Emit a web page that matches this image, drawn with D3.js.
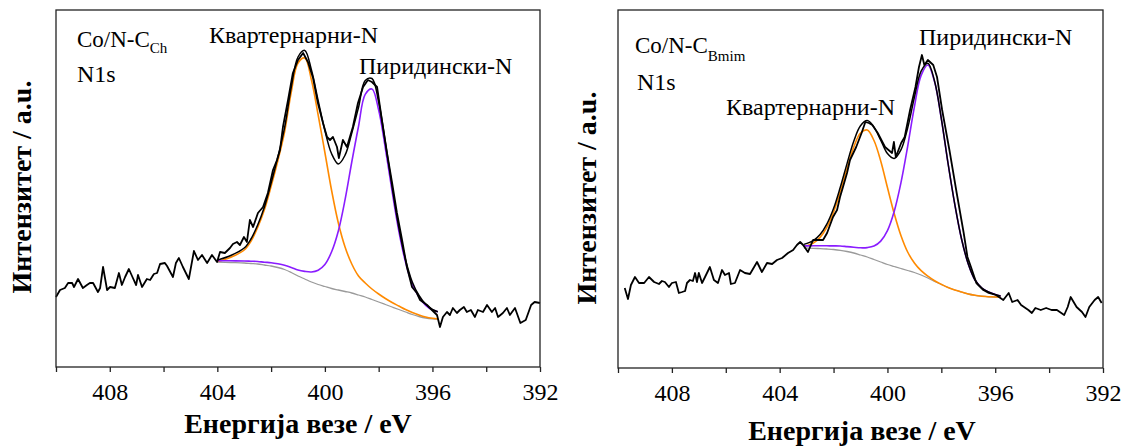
<!DOCTYPE html>
<html>
<head>
<meta charset="utf-8">
<script src="https://cdn.jsdelivr.net/npm/d3@7"></script>
<style>
  body { margin: 0; background: #fff; }
  svg { display: block; }
  svg text { font-family: "Liberation Serif", "Times New Roman", Tinos, "DejaVu Serif", serif; fill: #000; }
</style>
</head>
<body>
<svg id="chart" width="1122" height="447"></svg>
<script>
// ---- data (binding energy in eV, intensity in a.u.) ----
var energyTicks = [410, 408, 406, 404, 402, 400, 398, 396, 394, 392];
var energyLabels = [408, 404, 400, 396, 392];

// Co/N-C(Ch) measured spectrum
var chRawE = [410.0, 409.85, 409.67, 409.55, 409.4, 409.33, 409.18, 409.0, 408.85, 408.74, 408.62, 408.44, 408.36, 408.25, 408.1, 407.99, 407.81, 407.66, 407.55, 407.43, 407.29, 407.14, 407.02, 406.95, 406.8, 406.62, 406.5, 406.36, 406.24, 406.13, 405.95, 405.87, 405.65, 405.54, 405.43, 405.28, 405.06, 404.87, 404.72, 404.57, 404.38, 404.2, 404.01, 403.9, 403.72, 403.53, 403.42, 403.27, 403.16, 403.01, 402.9, 402.79, 402.67, 402.49, 402.3, 402.12, 401.93, 401.78, 401.67, 401.56, 401.37, 401.19, 401.0, 400.81, 400.63, 400.44, 400.26, 400.07, 399.92, 399.81, 399.7, 399.55, 399.48, 399.33, 399.18, 399.07, 398.96, 398.77, 398.58, 398.4, 398.25, 398.06, 397.88, 397.69, 397.5, 397.32, 397.13, 396.95, 396.76, 396.58, 396.46, 396.2, 396.02, 395.83, 395.72, 395.61, 395.46, 395.35, 395.24, 395.09, 394.98, 394.83, 394.72, 394.57, 394.42, 394.31, 394.12, 393.97, 393.79, 393.67, 393.56, 393.38, 393.23, 393.12, 392.93, 392.73, 392.53, 392.33, 392.2, 392.0];
var chRawI = [70, 77, 79, 84, 84, 80, 88, 79, 82, 84, 84, 75, 79, 100, 77, 80, 79, 94, 82, 90, 98, 89, 82, 92, 80, 88, 87, 93, 94, 103, 104, 101, 90, 104, 109, 100, 88, 116, 107, 112, 104, 112, 105, 115, 114, 119, 123, 125, 122, 130, 125, 147, 140, 154, 160, 174, 197, 207, 217, 240, 267, 294, 307, 314, 305, 289, 264, 244, 230, 227, 230, 220, 209, 227, 220, 230, 240, 264, 280, 287, 285, 280, 247, 214, 184, 154, 127, 100, 80, 74, 67, 62, 57, 52, 40, 50, 55, 52, 59, 54, 57, 60, 55, 57, 50, 57, 55, 62, 55, 59, 50, 54, 59, 52, 59, 44, 47, 62, 65, 64];

// Co/N-C(Ch) fit
var chFitE = [404, 403.5, 403, 402.75, 402.5, 402.25, 402, 401.75, 401.5, 401.25, 401, 400.75, 400.5, 400.25, 400, 399.75, 399.5, 399.25, 399, 398.75, 398.5, 398.25, 398, 397.75, 397.5, 397.25, 397, 396.75, 396.5, 396.25, 396, 395.8];
var chBackground = [105, 104.5, 104, 103.5, 103, 102, 101, 99.5, 97.5, 94.5, 91, 88, 85, 82.5, 80.5, 78.5, 77, 75.5, 74, 72, 70, 67.5, 65, 62.5, 60, 57.5, 55, 52.5, 50.5, 49, 48.2, 48];
var chQuaternary = [105.5, 109.8, 117, 125.7, 139.5, 157.2, 180.7, 206.3, 235, 275, 304, 309, 287, 252, 214.5, 176.5, 144, 120, 103, 91, 84, 78, 73, 68.5, 64.5, 61, 57.5, 54.5, 52, 50, 48.7, 48];
var chPyridinic = [106.4, 106.2, 106, 105.8, 105.5, 104.8, 104.3, 103.2, 101.7, 99.5, 97, 95.6, 95, 96.8, 102.5, 115.2, 136, 167.3, 205, 240.5, 272.6, 278, 257, 218.5, 175.6, 136, 104.8, 83, 70, 61.7, 57, 55.2];
var chEnvelope = [106.9, 111.5, 119, 128, 142, 160, 184, 210, 239.2, 280, 310, 316.6, 297, 266.3, 236.5, 213.2, 203, 211.8, 234, 259.5, 286.6, 288.5, 265, 224.5, 180.1, 139.5, 107.3, 85, 71.5, 62.7, 57.5, 55.2];

// Co/N-C(Bmim) measured spectrum
var bmRawE = [409.75, 409.63, 409.52, 409.37, 409.22, 409.03, 408.85, 408.66, 408.48, 408.37, 408.26, 408.11, 408.0, 407.85, 407.74, 407.62, 407.51, 407.44, 407.33, 407.22, 407.14, 407.07, 407.0, 406.88, 406.77, 406.59, 406.44, 406.29, 406.14, 406.03, 405.88, 405.81, 405.66, 405.47, 405.29, 405.1, 404.84, 404.66, 404.47, 404.28, 404.1, 403.91, 403.69, 403.5, 403.36, 403.24, 403.13, 402.95, 402.76, 402.58, 402.39, 402.24, 402.13, 402.02, 401.87, 401.76, 401.65, 401.5, 401.39, 401.16, 400.96, 400.82, 400.69, 400.56, 400.36, 400.09, 399.83, 399.76, 399.69, 399.49, 399.36, 399.16, 398.96, 398.83, 398.72, 398.63, 398.5, 398.3, 398.16, 397.97, 397.7, 397.43, 397.17, 397.03, 396.9, 396.7, 396.44, 396.24, 395.97, 395.7, 395.5, 395.37, 395.17, 395.04, 394.77, 394.64, 394.51, 394.31, 394.11, 393.91, 393.71, 393.44, 393.31, 393.2, 392.98, 392.78, 392.65, 392.51, 392.31, 392.18, 392.05];
var bmRawI = [80, 69, 83, 91, 85, 85, 91, 86, 84, 87, 86, 81, 85, 86, 75, 76, 77, 85, 88, 87, 95, 86, 95, 85, 91, 101, 88, 85, 98, 93, 95, 84, 85, 98, 95, 94, 106, 96, 105, 104, 108, 110, 115, 118, 123, 126, 123, 116, 128, 128, 128, 135, 143, 151, 158, 171, 181, 195, 208, 221, 235, 246, 245, 243, 235, 221, 215, 226, 211, 225, 231, 258, 281, 301, 313, 303, 308, 303, 291, 258, 218, 175, 135, 111, 101, 85, 78, 75, 73, 68, 75, 66, 68, 63, 58, 55, 60, 58, 60, 58, 58, 53, 61, 71, 61, 56, 51, 61, 68, 71, 65];

// Co/N-C(Bmim) fit
var bmFitE = [403.1, 402.75, 402.5, 402.25, 402, 401.75, 401.5, 401.25, 401, 400.75, 400.5, 400.25, 400, 399.75, 399.5, 399.25, 399, 398.75, 398.5, 398.25, 398, 397.75, 397.5, 397.25, 397, 396.75, 396.5, 396.25, 396, 395.8];
var bmBackground = [120, 119.7, 119.4, 119, 118.5, 117.7, 116.5, 115, 113, 111, 108.5, 106, 103.5, 101.5, 99.5, 97.5, 95.5, 93, 90, 86.5, 83.5, 80.5, 78, 76, 74, 72.7, 71.8, 71.2, 71, 71];
var bmQuaternary = [121.5, 124.9, 130.6, 140.6, 155.8, 176.4, 199.5, 221, 235, 238, 227.5, 207, 180.5, 154.5, 132.5, 116, 105, 97.3, 91.8, 87.2, 83.7, 80.5, 78, 76, 74, 72.7, 71.8, 71.2, 71, 71];
var bmPyridinic = [122.1, 122.2, 122.2, 122.2, 122.1, 122, 121.4, 120.8, 120.2, 120.4, 121.9, 126.9, 137.4, 156.5, 185.1, 221.5, 261.2, 292.6, 303, 286.1, 249.2, 204.5, 163.6, 129, 104, 88, 80, 76, 73.5, 72];
var bmEnvelope = [123.6, 127.4, 133.4, 143.8, 159.4, 180.7, 204.4, 226.8, 242.2, 247.4, 240.9, 227.9, 214.4, 209.5, 218.1, 240, 270.7, 296.9, 304.8, 286.8, 249.4, 204.5, 163.6, 129, 104, 88, 80, 76, 73.5, 72];

// ---- drawing ----
var svg = d3.select("#chart");

function pairs(xs, ys) {
	return xs.map(function(e, i) { return [e, ys[i]]; });
}

function drawPanel(p) {
	var x = d3.scaleLinear().domain([410, 392]).range([p.left, p.right]);
	var y = d3.scaleLinear().domain([0, p.bottom - p.top]).range([p.bottom, p.top]);
	var g = svg.append("g");

	var smooth = d3.line()
		.x(function(d) { return x(d[0]); })
		.y(function(d) { return y(d[1]); })
		.curve(d3.curveCatmullRom.alpha(0.5));
	var rough = d3.line()
		.x(function(d) { return x(d[0]); })
		.y(function(d) { return y(d[1]); });

	// fit components
	g.append("path").datum(pairs(p.fitE, p.bg))
		.attr("d", smooth).attr("fill", "none")
		.attr("stroke", "#9a9a9a").attr("stroke-width", 1.3);
	g.append("path").datum(pairs(p.fitE, p.quat))
		.attr("d", smooth).attr("fill", "none")
		.attr("stroke", "#ff8a00").attr("stroke-width", 1.6);
	g.append("path").datum(pairs(p.fitE, p.pyr))
		.attr("d", smooth).attr("fill", "none")
		.attr("stroke", "#8a1cff").attr("stroke-width", 1.6);

	// raw spectrum + envelope
	g.append("path").datum(pairs(p.rawE, p.rawI))
		.attr("d", rough).attr("fill", "none")
		.attr("stroke", "#000").attr("stroke-width", 1.8)
		.attr("stroke-linejoin", "round");
	g.append("path").datum(pairs(p.fitE, p.env))
		.attr("d", smooth).attr("fill", "none")
		.attr("stroke", "#000").attr("stroke-width", 1.5);

	// frame
	g.append("rect")
		.attr("x", p.left).attr("y", p.top)
		.attr("width", p.right - p.left).attr("height", p.bottom - p.top)
		.attr("fill", "none").attr("stroke", "#222").attr("stroke-width", 1.3);

	// x axis
	var ax = g.append("g")
		.attr("transform", "translate(0," + p.bottom + ")")
		.call(d3.axisBottom(x)
			.tickValues(energyTicks)
			.tickSize(5)
			.tickFormat(function(d) { return energyLabels.indexOf(d) >= 0 ? d : ""; }));
	ax.attr("font-family", null);
	ax.select(".domain").remove();
	ax.selectAll(".tick line").attr("stroke", "#222").attr("stroke-width", 1.3);
	ax.selectAll(".tick text")
		.attr("y", 33).attr("dy", null)
		.style("font-size", "24px")
		.attr("fill", "#000");

	g.append("text")
		.attr("x", p.xTitleX)
		.attr("y", p.xTitleY)
		.attr("text-anchor", "middle")
		.style("font-size", "28px").style("font-weight", "bold")
		.text("Енергија везе / eV");

	g.append("text")
		.attr("transform", "translate(" + p.yTitleX + "," + p.yTitleY + ") rotate(-90)")
		.attr("text-anchor", "middle")
		.style("font-size", "28px").style("font-weight", "bold")
		.text("Интензитет / a.u.");

	// annotations
	var s = g.append("text").attr("x", p.sample[0]).attr("y", p.sample[1]).style("font-size", "23px");
	s.append("tspan").text("Co/N-C");
	s.append("tspan").attr("dy", p.subDy).style("font-size", "15px").text(p.sub);
	g.append("text").attr("x", p.n1s[0]).attr("y", p.n1s[1]).style("font-size", "24px").text("N1s");
	g.append("text").attr("x", p.quatLabel[0]).attr("y", p.quatLabel[1]).style("font-size", "24px").text("Квартернарни-N");
	g.append("text").attr("x", p.pyrLabel[0]).attr("y", p.pyrLabel[1]).style("font-size", "24px").text("Пиридински-N");
}

drawPanel({
	left: 56, right: 540, top: 10, bottom: 367,
	rawE: chRawE, rawI: chRawI, fitE: chFitE,
	bg: chBackground, quat: chQuaternary, pyr: chPyridinic, env: chEnvelope,
	xTitleX: 298, xTitleY: 433, yTitleX: 31, yTitleY: 187,
	sample: [77, 47], sub: "Ch", subDy: 6, n1s: [77, 82],
	quatLabel: [209, 43], pyrLabel: [359, 74]
});

drawPanel({
	left: 618, right: 1103, top: 10, bottom: 368,
	rawE: bmRawE, rawI: bmRawI, fitE: bmFitE,
	bg: bmBackground, quat: bmQuaternary, pyr: bmPyridinic, env: bmEnvelope,
	xTitleX: 862, xTitleY: 440, yTitleX: 596, yTitleY: 198,
	sample: [635, 53], sub: "Bmim", subDy: 8, n1s: [637, 90],
	quatLabel: [726, 115], pyrLabel: [919, 45]
});
</script>
</body>
</html>
